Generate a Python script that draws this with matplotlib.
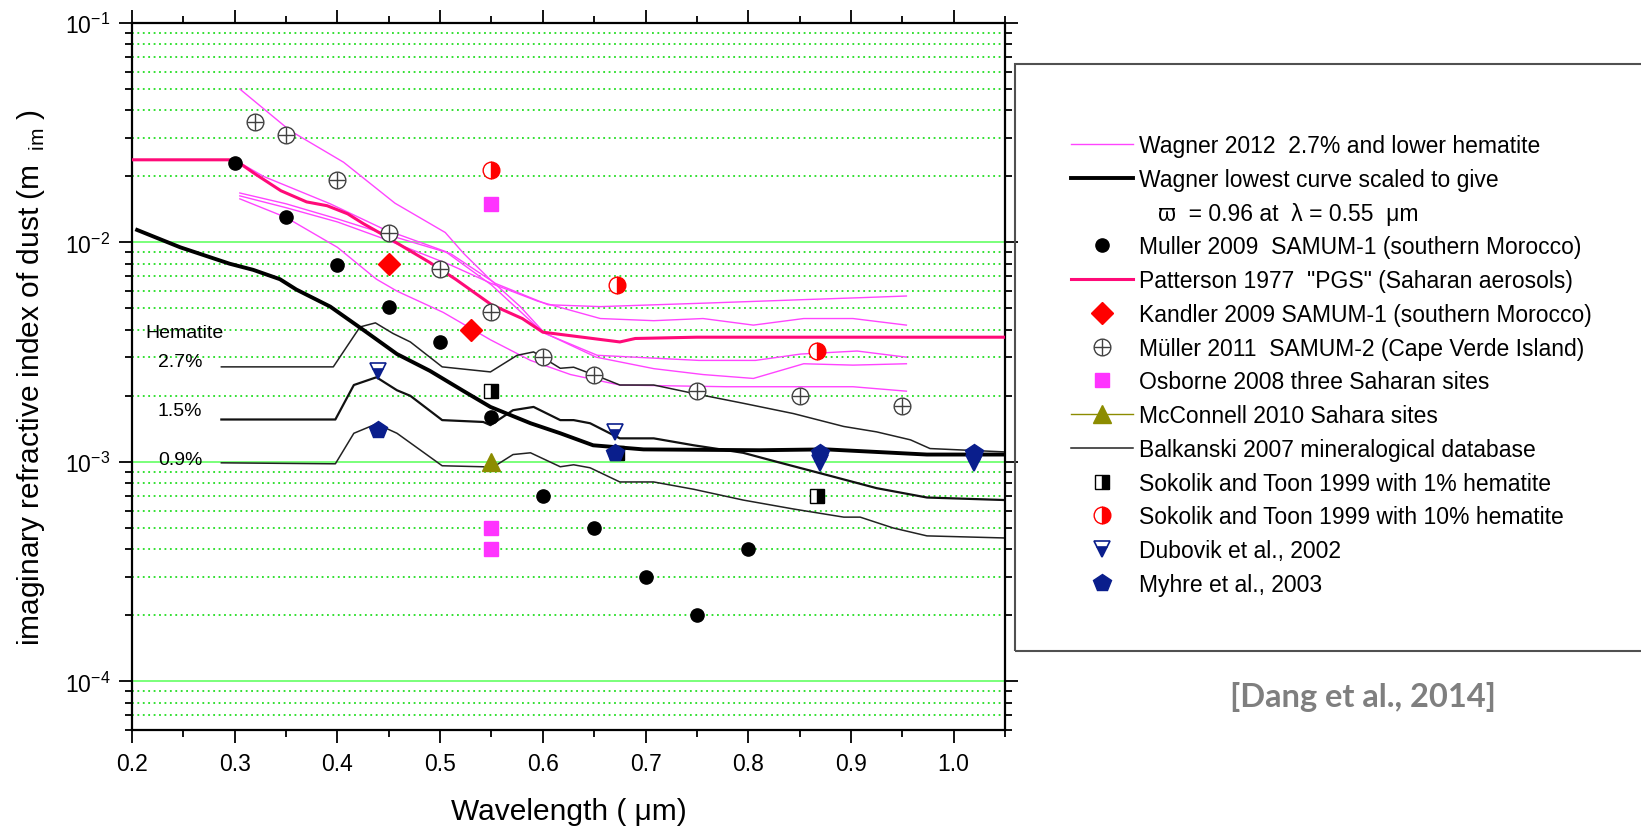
import numpy as np
import matplotlib
matplotlib.use('Agg')
import matplotlib.pyplot as plt
from matplotlib.lines import Line2D
from matplotlib.patches import Rectangle
from matplotlib.ticker import MultipleLocator, FormatStrFormatter, LogLocator

# data (wavelength in um, imaginary refractive index)
patterson_wl = [0.2, 0.3, 0.32, 0.345, 0.37, 0.39, 0.41, 0.425, 0.445, 0.465, 0.49, 0.515,
                0.55, 0.58, 0.6, 0.675, 0.69, 0.75, 1.05]
patterson_k = [0.0238, 0.0238, 0.0205, 0.0172, 0.0153, 0.0147, 0.0135, 0.0122, 0.0108, 0.0095,
               0.0081, 0.0068, 0.0052, 0.0045, 0.0039, 0.00352, 0.00365, 0.0037, 0.0037]

scaled_wl = [0.205, 0.247, 0.295, 0.318, 0.344, 0.36, 0.393, 0.425, 0.458, 0.49, 0.523, 0.549,
             0.588, 0.617, 0.649, 0.698, 0.811, 0.876, 0.941, 0.974, 1.05]
scaled_k = [0.0114, 0.0095, 0.0080, 0.0075, 0.0068, 0.0061, 0.0051, 0.0040, 0.0031, 0.0026, 0.0021,
            0.00178, 0.0015, 0.00135, 0.00119, 0.00114, 0.00113, 0.00114, 0.0011, 0.00108, 0.00108]

wagner1_wl = [0.305, 0.354, 0.406, 0.456, 0.505, 0.523, 0.547, 0.578, 0.602, 0.653, 0.752, 0.807,
              0.851, 0.906, 0.954]
wagner1_k = [0.050, 0.0323, 0.0232, 0.0151, 0.0111, 0.0089, 0.0069, 0.0051, 0.00385, 0.00306,
             0.0029, 0.0029, 0.0031, 0.0032, 0.0030]
wagner2_wl = [0.305, 0.35, 0.40, 0.45, 0.51, 0.554, 0.605, 0.656, 0.763, 0.86, 0.909, 0.954]
wagner2_k = [0.0168, 0.0150, 0.0128, 0.0108, 0.0089, 0.0065, 0.0052, 0.0051, 0.0053, 0.0055,
             0.0056, 0.0057]
wagner3_wl = [0.305, 0.35, 0.40, 0.45, 0.51, 0.55, 0.595, 0.656, 0.708, 0.756, 0.805, 0.854,
              0.902, 0.954]
wagner3_k = [0.0163, 0.0144, 0.0124, 0.0102, 0.0079, 0.0065, 0.0054, 0.0045, 0.0044, 0.0045,
             0.0042, 0.0045, 0.0045, 0.0042]
wagner4_wl = [0.3, 0.328, 0.393, 0.445, 0.505, 0.55, 0.6, 0.652, 0.708, 0.756, 0.805, 0.854,
              0.902, 0.954]
wagner4_k = [0.0238, 0.0200, 0.0150, 0.0115, 0.0091, 0.0064, 0.0039, 0.0030, 0.00266, 0.0025,
             0.0024, 0.0028, 0.00276, 0.0028]
wagner5_wl = [0.305, 0.35, 0.40, 0.438, 0.458, 0.503, 0.549, 0.588, 0.627, 0.652, 0.675, 0.779,
              0.902, 0.954]
wagner5_k = [0.0158, 0.0130, 0.0095, 0.0068, 0.0060, 0.0048, 0.0036, 0.0029, 0.0025, 0.00236,
             0.00224, 0.0022, 0.0022, 0.0021]

balk27_wl = [0.287, 0.396, 0.422, 0.437, 0.454, 0.471, 0.502, 0.549, 0.575, 0.591, 0.617, 0.63,
             0.659, 0.675, 0.708, 0.747, 0.795, 0.844, 0.893, 0.925, 0.958, 0.977, 1.05]
balk27_k = [0.00271, 0.00271, 0.00412, 0.0043, 0.00385, 0.00352, 0.00271, 0.00257, 0.00306,
            0.00317, 0.00267, 0.0027, 0.0024, 0.00224, 0.00224, 0.00205, 0.00185, 0.00166,
            0.00145, 0.00137, 0.00126, 0.00115, 0.00111]
balk15_wl = [0.287, 0.398, 0.416, 0.438, 0.458, 0.471, 0.502, 0.542, 0.549, 0.571, 0.591, 0.617,
             0.63, 0.646, 0.675, 0.708, 0.747, 0.795, 0.828, 0.876, 0.925, 0.974, 1.05]
balk15_k = [0.00156, 0.00156, 0.00224, 0.00243, 0.00212, 0.0020, 0.00155, 0.00152, 0.00147,
            0.00172, 0.00178, 0.00155, 0.00155, 0.0015, 0.00128, 0.00128, 0.00119, 0.0011,
            0.0010, 0.000873, 0.000759, 0.000688, 0.00067]
balk09_wl = [0.287, 0.398, 0.416, 0.438, 0.458, 0.502, 0.542, 0.549, 0.571, 0.588, 0.617, 0.63,
             0.646, 0.675, 0.708, 0.747, 0.795, 0.844, 0.893, 0.909, 0.941, 0.974, 1.05]
balk09_k = [0.00099, 0.00098, 0.00135, 0.00149, 0.00135, 0.00096, 0.00095, 0.00093, 0.00108,
            0.0011, 0.00095, 0.00097, 0.00094, 0.00081, 0.00081, 0.00075, 0.00067, 0.00061,
            0.00056, 0.00056, 0.0005, 0.00046, 0.00045]

muller09_wl = [0.3, 0.35, 0.4, 0.45, 0.5, 0.55, 0.6, 0.65, 0.7, 0.75, 0.8]
muller09_k = [0.023, 0.013, 0.0079, 0.0051, 0.0035, 0.0016, 0.0007, 0.0005, 0.0003, 0.0002, 0.0004]
kandler_wl = [0.45, 0.53]
kandler_k = [0.008, 0.004]
muller11_wl = [0.32, 0.35, 0.4, 0.45, 0.5, 0.55, 0.6, 0.65, 0.75, 0.85, 0.95]
muller11_k = [0.0355, 0.031, 0.0193, 0.011, 0.0076, 0.0048, 0.003, 0.0025, 0.0021, 0.002, 0.0018]
osborne_wl = [0.55, 0.55, 0.55]
osborne_k = [0.015, 0.0005, 0.0004]
mcconnell_wl = [0.55]
mcconnell_k = [0.001]
sok1_wl = [0.55, 0.672, 0.867]
sok1_k = [0.0021, 0.0011, 0.0007]
sok10_wl = [0.55, 0.672, 0.867]
sok10_k = [0.0214, 0.0064, 0.0032]
dubovik_wl = [0.44, 0.67, 0.87, 1.02]
dubovik_k = [0.0026, 0.00137, 0.00099, 0.00099]
myhre_wl = [0.44, 0.67, 0.87, 1.02]
myhre_k = [0.0014, 0.0011, 0.0011, 0.0011]

hematite_labels = ['Hematite', '2.7%', '1.5%', '0.9%']
hematite_k = [0.0039, 0.00286, 0.00172, 0.00102]

# plot settings
plt.rcParams['font.family'] = ['Liberation Sans', 'DejaVu Sans']
plt.rcParams['mathtext.fontset'] = 'custom'
plt.rcParams['mathtext.rm'] = 'Liberation Sans'

W, H = 1641, 829
fig = plt.figure(figsize=(W / 100, H / 100), dpi=100)
ax = fig.add_axes([132 / W, (H - 731) / H, 873 / W, 707 / H])

pink = '#ff44ff'
hotpink = '#ff0a78'
navy = '#0a1e8c'

# lines
wag, = ax.plot(wagner1_wl, wagner1_k, color=pink, lw=1.0, zorder=2)
for wl, k in [(wagner2_wl, wagner2_k), (wagner3_wl, wagner3_k),
              (wagner4_wl, wagner4_k), (wagner5_wl, wagner5_k)]:
    ax.plot(wl, k, color=pink, lw=1.0, zorder=2)
balk, = ax.plot(balk27_wl, balk27_k, color='#222222', lw=1.1, zorder=2)
ax.plot(balk15_wl, balk15_k, color='#111111', lw=1.6, zorder=2)
ax.plot(balk09_wl, balk09_k, color='#222222', lw=1.1, zorder=2)
scaled, = ax.plot(scaled_wl, scaled_k, color='black', lw=2.8, zorder=2.5)
patt, = ax.plot(patterson_wl, patterson_k, color=hotpink, lw=2.2, zorder=2.6)

# markers
mul09, = ax.plot(muller09_wl, muller09_k, 'o', color='black', ms=9.5, zorder=4)
kand, = ax.plot(kandler_wl, kandler_k, 'D', color='red', ms=11, zorder=4)
mul11_o, = ax.plot(muller11_wl, muller11_k, 'o', ls='none', mfc='white', mec='#404040',
                   ms=12, mew=1.0, zorder=4)
mul11_p, = ax.plot(muller11_wl, muller11_k, '+', ls='none', color='#404040',
                   ms=12, mew=1.0, zorder=4.1)
osb, = ax.plot(osborne_wl, osborne_k, 's', color='#ff33ff', ms=10, zorder=4)
mcc, = ax.plot(mcconnell_wl, mcconnell_k, '-^', color='#8c8c00', ms=13, lw=1.0, zorder=4)
sok1, = ax.plot(sok1_wl, sok1_k, 's', ls='none', fillstyle='right', markerfacecolor='black',
                markerfacecoloralt='white', markeredgecolor='black', ms=10, mew=1.0, zorder=4)
sok10, = ax.plot(sok10_wl, sok10_k, 'o', ls='none', fillstyle='right', markerfacecolor='red',
                 markerfacecoloralt='white', markeredgecolor='red', ms=12, mew=1.0, zorder=4)
dub, = ax.plot(dubovik_wl, dubovik_k, 'v', ls='none', fillstyle='bottom', markerfacecolor=navy,
               markerfacecoloralt='white', markeredgecolor=navy, ms=12, mew=1.2, zorder=5)
myh, = ax.plot(myhre_wl, myhre_k, 'p', ls='none', color=navy, ms=13, zorder=5)

# hematite labels
ax.text(0.2516, hematite_k[0], hematite_labels[0], fontsize=14, ha='center', va='center')
for lab, k in zip(hematite_labels[1:], hematite_k[1:]):
    ax.text(0.2467, k, lab, fontsize=14, ha='center', va='center')

# axes
ax.set_yscale('log')
ax.set_xlim(0.2, 1.05)
ax.set_ylim(6e-5, 0.1)
ax.xaxis.set_major_locator(MultipleLocator(0.1))
ax.xaxis.set_minor_locator(MultipleLocator(0.05))
ax.xaxis.set_major_formatter(FormatStrFormatter('%.1f'))
ax.yaxis.set_minor_locator(LogLocator(base=10, subs=np.arange(2, 10)))
ax.tick_params(which='both', direction='out', top=True, right=True, width=1.3, labelsize=16.5)
ax.tick_params(which='major', length=9.5, pad=6)
ax.tick_params(which='minor', length=5)
for sp in ax.spines.values():
    sp.set_linewidth(1.6)

ax.set_axisbelow(True)
ax.grid(which='major', axis='y', color='#70ff70', lw=1.3, ls='-')
ax.grid(which='minor', axis='y', color='#22dd22', lw=1.3, ls=(0, (1, 2)))

ax.set_xlabel('Wavelength ( μm)', fontsize=21.5, va='center')
ax.xaxis.set_label_coords(0.5, -(812 - 731) / 707)
ax.set_ylabel(r'imaginary refractive index of dust (m$_{\ \ \mathrm{im}}$ )', fontsize=21.5,
              va='center')
ax.yaxis.set_label_coords(-(132 - 31) / 873, 0.5)

# legend
blank = Line2D([], [], color='none')
handles = [wag, scaled, blank, mul09, patt, kand, (mul11_o, mul11_p), osb, mcc, balk, sok1, sok10,
           dub, myh]
labels = ['Wagner 2012  2.7% and lower hematite',
          'Wagner lowest curve scaled to give',
          '   ϖ  = 0.96 at  λ = 0.55  μm',
          'Muller 2009  SAMUM-1 (southern Morocco)',
          'Patterson 1977  "PGS" (Saharan aerosols)',
          'Kandler 2009 SAMUM-1 (southern Morocco)',
          'Müller 2011  SAMUM-2 (Cape Verde Island)',
          'Osborne 2008 three Saharan sites',
          'McConnell 2010 Sahara sites',
          'Balkanski 2007 mineralogical database',
          'Sokolik and Toon 1999 with 1% hematite',
          'Sokolik and Toon 1999 with 10% hematite',
          'Dubovik et al., 2002',
          'Myhre et al., 2003']
fig.legend(handles, labels, loc='upper left', bbox_to_anchor=(1071 / W, 1 - 135 / H),
           bbox_transform=fig.transFigure, frameon=False, fontsize=16.5, handlelength=2.7,
           handletextpad=0.27, labelspacing=0.47, borderpad=0, borderaxespad=0, numpoints=1)
fig.patches.append(Rectangle((1015 / W, (H - 652) / H), 0.5, (652 - 65) / H,
                             transform=fig.transFigure, fill=False, ec='#505050', lw=1.5))

fig.text(1363 / W, 1 - 697 / H, '[Dang et al., 2014]', fontsize=23.5, fontweight='bold',
         color='#7f7f7f', family='Lato', ha='center', va='center')

plt.savefig('out.png', dpi=100)
